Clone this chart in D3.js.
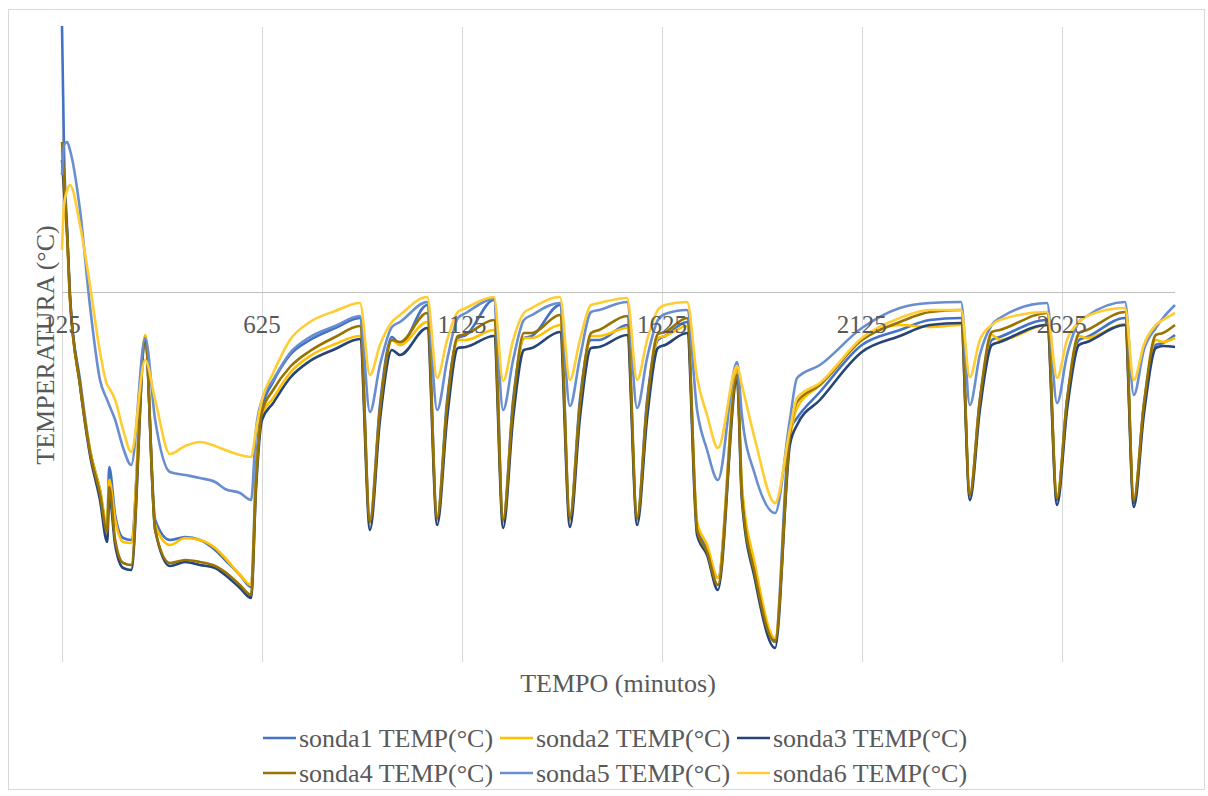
<!DOCTYPE html>
<html>
<head>
<meta charset="utf-8">
<script src="https://cdn.jsdelivr.net/npm/d3@7"></script>
<style>
  html, body { margin: 0; padding: 0; background: #fff; }
  svg { display: block; font-family: "Liberation Serif", "Times New Roman", serif; }
</style>
</head>
<body>
<svg id="chart" width="1208" height="796"></svg>
<script>
// time axis (minutes) shared by every probe
const minutes = [125,130,138,145,170,195,220,238,243,258,278,298,333,358,395,433,470,508,533,570,598,610,625,653,695,745,808,870,895,920,950,970,1038,1063,1088,1115,1135,1205,1228,1253,1280,1300,1370,1395,1420,1448,1468,1538,1563,1588,1615,1633,1688,1713,1738,1765,1813,1825,1858,1908,1945,1963,2020,2125,2220,2295,2373,2395,2420,2450,2470,2588,2613,2638,2668,2688,2783,2805,2830,2860,2878,2908];

const sonda1 = [26.6,14.2,6.2,-0.8,-8.8,-15.8,-19.8,-23.8,-17.5,-22.3,-24.6,-24.8,-4.8,-22.8,-24.8,-24.5,-24.8,-25.8,-26.8,-28.3,-29.5,-17.8,-11.6,-9.0,-6.3,-4.8,-3.6,-2.6,-22.8,-11.3,-4.5,-5.3,-1.3,-22.6,-10.8,-4.6,-4.3,-0.8,-22.8,-10.8,-4.6,-4.4,-1.3,-22.6,-10.8,-4.8,-4.8,-3.3,-22.6,-10.8,-4.8,-4.4,-3.0,-23.3,-25.6,-28.6,-7.8,-19.8,-27.8,-34.8,-13.8,-12.6,-10.0,-5.3,-3.8,-2.8,-2.6,-20.3,-10.8,-4.8,-4.5,-2.8,-20.8,-10.8,-4.8,-4.5,-2.6,-21.1,-11.3,-5.3,-5.1,-4.3];
const sonda2 = [14.2,10.2,5.2,-0.8,-9.3,-15.8,-19.8,-23.3,-18.8,-22.8,-25.0,-25.1,-4.3,-23.3,-25.3,-24.6,-24.8,-25.6,-26.6,-28.3,-29.3,-18.8,-12.3,-10.6,-8.1,-6.4,-5.2,-4.4,-23.0,-12.3,-4.8,-5.3,-3.0,-22.8,-11.8,-4.8,-4.8,-3.8,-23.0,-11.8,-4.6,-4.6,-3.3,-22.8,-11.8,-4.4,-4.4,-3.6,-22.8,-11.8,-4.6,-4.4,-3.4,-23.0,-25.3,-28.6,-7.6,-19.3,-27.3,-34.6,-14.8,-11.6,-9.3,-4.8,-3.3,-3.5,-3.3,-20.3,-11.3,-4.3,-4.8,-3.3,-20.6,-11.3,-4.4,-4.6,-3.2,-20.8,-11.8,-4.8,-5.0,-4.6];
const sonda3 = [13.2,10.2,5.7,-0.3,-9.3,-16.3,-20.8,-25.0,-20.3,-25.3,-27.6,-27.8,-5.0,-23.8,-27.4,-27.0,-27.3,-27.6,-28.3,-29.6,-30.6,-19.8,-12.8,-11.1,-8.6,-6.9,-5.7,-4.7,-23.8,-12.8,-5.8,-6.3,-3.6,-23.3,-12.6,-5.6,-5.5,-4.4,-23.6,-12.6,-5.8,-5.6,-4.0,-23.5,-12.6,-5.6,-5.5,-4.3,-23.3,-12.6,-5.6,-5.3,-4.1,-24.3,-26.3,-29.8,-8.8,-20.8,-28.8,-35.6,-15.3,-13.3,-10.8,-6.0,-4.4,-3.3,-3.1,-20.8,-11.8,-5.3,-5.0,-3.3,-21.3,-11.8,-5.3,-5.0,-3.3,-21.5,-12.3,-5.6,-5.4,-5.5];
const sonda4 = [15.0,11.2,5.7,-0.6,-9.3,-16.0,-20.2,-24.0,-19.5,-24.8,-27.1,-27.3,-4.8,-23.8,-27.1,-26.8,-27.0,-27.4,-28.0,-29.3,-30.3,-19.3,-12.0,-9.8,-7.5,-5.9,-4.5,-3.4,-23.0,-11.8,-4.8,-5.0,-2.1,-22.6,-11.3,-4.4,-4.2,-2.8,-22.8,-11.3,-4.1,-4.1,-2.3,-22.6,-11.3,-4.1,-3.8,-2.4,-22.6,-11.3,-4.2,-4.0,-2.6,-23.8,-26.0,-29.3,-8.3,-20.3,-28.3,-35.0,-14.3,-11.0,-9.3,-4.8,-3.0,-2.0,-1.8,-20.3,-10.8,-4.0,-3.8,-2.1,-20.6,-10.8,-4.1,-3.8,-2.0,-20.8,-11.3,-4.3,-4.1,-3.3];
const sonda5 = [11.7,14.7,15.0,14.2,8.2,-1.4,-8.8,-10.8,-11.3,-12.8,-15.6,-17.3,-4.6,-12.8,-18.0,-18.3,-18.6,-19.0,-19.7,-20.1,-20.8,-13.8,-10.8,-8.8,-6.1,-4.5,-3.4,-2.4,-12.0,-7.3,-3.5,-3.0,-1.0,-11.8,-6.8,-2.6,-2.1,-0.7,-11.8,-6.8,-2.8,-2.3,-1.1,-11.4,-6.6,-2.0,-1.8,-1.0,-11.6,-6.6,-2.8,-2.2,-1.8,-11.8,-15.8,-18.8,-7.0,-12.3,-18.3,-22.1,-12.8,-8.6,-7.3,-3.6,-1.6,-1.1,-1.0,-11.3,-6.3,-3.3,-2.6,-1.1,-11.1,-6.3,-3.0,-2.4,-1.0,-10.3,-5.8,-3.6,-2.6,-1.3];
const sonda6 = [4.2,8.7,10.2,10.7,6.7,0.7,-6.0,-9.3,-9.6,-10.8,-13.8,-16.0,-6.8,-10.8,-16.2,-15.4,-15.0,-15.4,-15.8,-16.3,-16.5,-13.8,-10.8,-8.1,-4.8,-3.0,-1.9,-1.1,-8.3,-5.3,-3.0,-2.3,-0.5,-8.6,-4.8,-2.0,-1.6,-0.5,-8.9,-4.8,-2.1,-1.6,-0.5,-8.8,-4.8,-1.3,-1.1,-0.6,-8.8,-4.8,-1.8,-1.3,-1.0,-8.6,-12.3,-15.6,-7.4,-9.3,-14.8,-21.1,-13.8,-10.6,-9.1,-4.6,-2.6,-1.8,-1.8,-8.5,-4.8,-3.3,-2.8,-2.0,-8.6,-4.8,-3.0,-2.4,-1.6,-8.8,-5.3,-3.3,-2.8,-2.1];

const seriesNames = ['sonda1 TEMP(°C)', 'sonda2 TEMP(°C)', 'sonda3 TEMP(°C)',
                     'sonda4 TEMP(°C)', 'sonda5 TEMP(°C)', 'sonda6 TEMP(°C)'];
const seriesColors = ['#4472C4', '#FFC000', '#264478', '#997300', '#698ED0', '#FFCD33'];
const xTicks = [125, 625, 1125, 1625, 2125, 2625];

(function () {
  const svg = d3.select('#chart');
  const L = 62, R = 1175, T = 27, B = 662;
  const txt = '#595959';

  // outer chart frame
  svg.append('rect').attr('x', 8.5).attr('y', 9.5).attr('width', 1196).attr('height', 780)
    .attr('fill', '#fff').attr('stroke', '#d9d9d9');

  const x = d3.scaleLinear().domain([125, 2908]).range([L, R]);
  const y = d3.scaleLinear().domain([-37, 26.5]).range([B, T]);

  // vertical gridlines
  svg.append('g').selectAll('line').data(xTicks).join('line')
    .attr('x1', d => Math.round(x(d)) + 0.5).attr('x2', d => Math.round(x(d)) + 0.5)
    .attr('y1', T).attr('y2', B)
    .attr('stroke', '#d9d9d9').attr('stroke-width', 1);

  // horizontal axis sits on zero
  const y0 = Math.round(y(0)) + 0.5;
  svg.append('line').attr('x1', L).attr('x2', R).attr('y1', y0).attr('y2', y0)
    .attr('stroke', '#bfbfbf').attr('stroke-width', 1.2);

  const all = [sonda1, sonda2, sonda3, sonda4, sonda5, sonda6];
  const line = d3.line()
    .x((d, i) => x(minutes[i]))
    .y(d => y(d))
    .curve(d3.curveMonotoneX);

  svg.append('g').selectAll('path').data(all).join('path')
    .attr('d', d => line(d))
    .attr('fill', 'none')
    .attr('stroke', (d, i) => seriesColors[i])
    .attr('stroke-width', 2.6)
    .attr('stroke-linejoin', 'round');

  // tick labels under the zero line
  svg.append('g').selectAll('text').data(xTicks).join('text')
    .attr('x', d => x(d)).attr('y', y0 + 40)
    .attr('text-anchor', 'middle')
    .attr('font-size', 25).attr('fill', txt)
    .text(d => d);

  // axis titles
  svg.append('text').attr('x', 618).attr('y', 692)
    .attr('text-anchor', 'middle').attr('font-size', 26).attr('fill', txt)
    .text('TEMPO (minutos)');
  svg.append('text').attr('transform', 'translate(54,345) rotate(-90)')
    .attr('text-anchor', 'middle').attr('font-size', 26).attr('fill', txt)
    .text('TEMPERATURA (°C)');

  // legend, two rows of three
  const colX = [263, 500, 737], rowY = [738, 773];
  const leg = svg.append('g').selectAll('g').data(seriesNames).join('g')
    .attr('transform', (d, i) => `translate(${colX[i % 3]},${rowY[Math.floor(i / 3)]})`);
  leg.append('line').attr('x1', 0).attr('x2', 33).attr('y1', 0).attr('y2', 0)
    .attr('stroke', (d, i) => seriesColors[i]).attr('stroke-width', 2.6);
  leg.append('text').attr('x', 36).attr('y', 9)
    .attr('font-size', 26).attr('fill', txt)
    .text(d => d);
})();
</script>
</body>
</html>
